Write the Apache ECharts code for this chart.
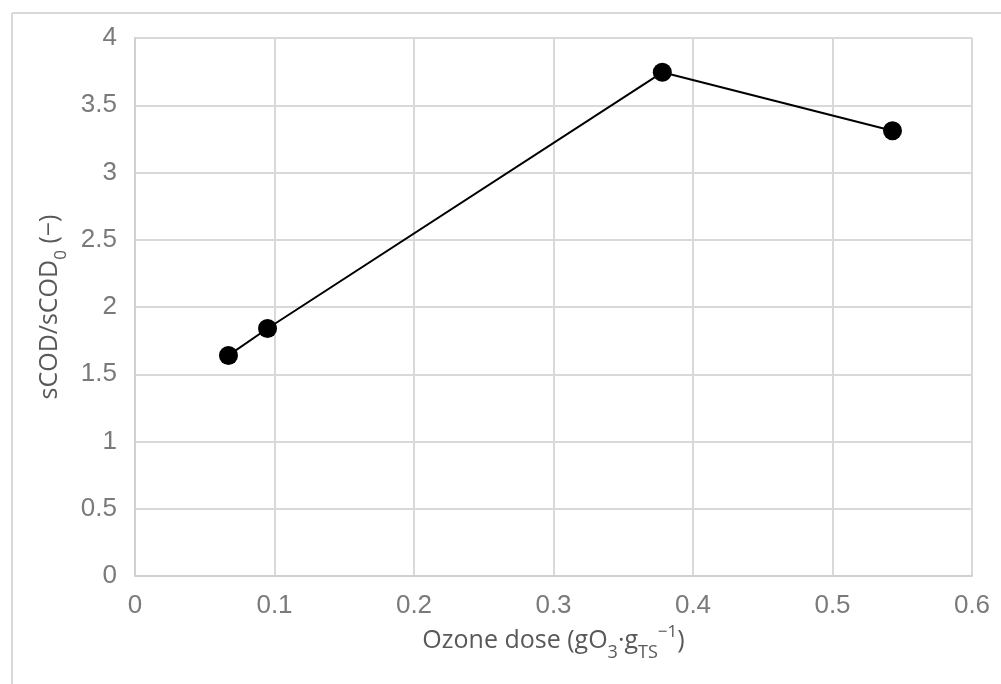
<!DOCTYPE html>
<html>
<head>
<meta charset="utf-8">
<script src="https://cdn.jsdelivr.net/npm/echarts@6/dist/echarts.min.js"></script>
<style>html,body{margin:0;padding:0;background:#fff;}#c{width:1001px;height:684px;}</style>
</head>
<body>
<div id="c"></div>
<script>
var ozoneDose = [0.067, 0.095, 0.378, 0.543];
var scodRatio = [1.64, 1.84, 3.745, 3.31];
var xTicks = [0, 0.1, 0.2, 0.3, 0.4, 0.5, 0.6];
var yTicks = [0, 0.5, 1, 1.5, 2, 2.5, 3, 3.5, 4];

var chart = echarts.init(document.getElementById('c'));
var TFONT = '"Open Sans", "Noto Sans", sans-serif';
var LFONT = '"Liberation Sans", Arial, sans-serif';
var data = ozoneDose.map(function (x, i) { return [x, scodRatio[i]]; });
chart.setOption({
  animation: false,
  backgroundColor: '#fff',
  grid: { left: 135, right: 29, top: 38, bottom: 108, containLabel: false },
  graphic: [
    { type: 'line', shape: { x1: 12, y1: 13, x2: 1001, y2: 13 }, style: { stroke: '#d9d9d9', lineWidth: 2 } },
    { type: 'line', shape: { x1: 12, y1: 13, x2: 12, y2: 684 }, style: { stroke: '#d9d9d9', lineWidth: 2 } }
  ],
  xAxis: {
    type: 'value', min: 0, max: 0.6, interval: 0.1,
    axisLine: { show: true, lineStyle: { color: '#d0d0d0', width: 2 } },
    axisTick: { show: false },
    splitLine: { show: true, lineStyle: { color: '#d9d9d9', width: 2 } },
    axisLabel: { color: '#7a7a7a', fontSize: 26, fontFamily: LFONT, margin: 17,
      formatter: function (v) { return String(Math.round(v * 10) / 10); } },
    name: '{t|Ozone dose (gO}{s|3}{t|·g}{s|TS}{p|−1}{t|)}',
    nameLocation: 'middle', nameGap: 52,
    nameTextStyle: {
      rich: {
        t: { color: '#595959', fontSize: 25, fontFamily: TFONT },
        s: { color: '#595959', fontSize: 18, fontFamily: TFONT, verticalAlign: 'bottom', padding: [0, 0, -9, 0] },
        p: { color: '#595959', fontSize: 17, fontFamily: TFONT, verticalAlign: 'top', padding: [-4, 0, 0, 0] }
      }
    }
  },
  yAxis: {
    type: 'value', min: 0, max: 4, interval: 0.5,
    axisLine: { show: true, lineStyle: { color: '#d0d0d0', width: 2 } },
    axisTick: { show: false },
    splitLine: { show: true, lineStyle: { color: '#d9d9d9', width: 2 } },
    axisLabel: { color: '#7a7a7a', fontSize: 26, fontFamily: LFONT, margin: 18 },
    name: '{t|sCOD/sCOD}{s|0}{t| (−)}',
    nameLocation: 'middle', nameGap: 58,
    nameTextStyle: {
      rich: {
        t: { color: '#595959', fontSize: 25, fontFamily: TFONT },
        s: { color: '#595959', fontSize: 17, fontFamily: TFONT, verticalAlign: 'bottom', padding: [0, 0, -8, 0] }
      }
    }
  },
  series: [{
    type: 'line',
    data: data,
    symbol: 'circle', symbolSize: 19,
    lineStyle: { color: '#000', width: 2 },
    itemStyle: { color: '#000' },
    z: 5
  }]
});
</script>
</body>
</html>
